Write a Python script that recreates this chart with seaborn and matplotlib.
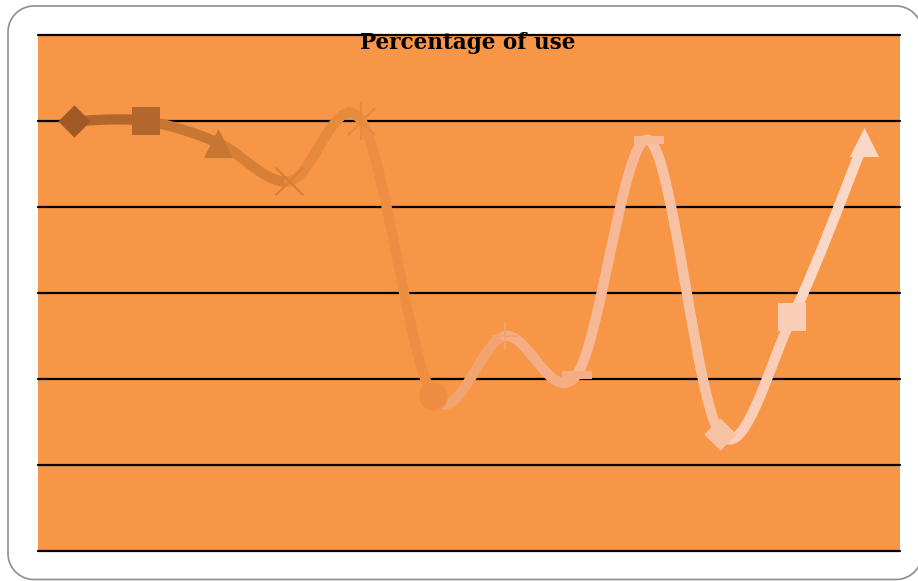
import numpy as np
import pandas as pd
import matplotlib
matplotlib.use("Agg")
import matplotlib.pyplot as plt
from matplotlib.lines import Line2D
import seaborn as sns

# Twelve observations, one colour and one marker per point
positions = list(range(12))
values = [50, 50, 47.5, 43, 50, 18, 25, 20.5, 47.8, 13.6, 27.2, 47.6]
point_colors = ["#a15a26", "#b4672d", "#c77634", "#d77f37", "#e68a3d", "#ee8e42",
                "#f3a370", "#f5ae84", "#f6b896", "#f7c2a4", "#f9cdb6", "#fad8c8"]
point_markers = ["D", "s", "^", "x", "asterisk", "o", "+", "dash", "dash", "D", "s", "^"]
y_ticks = [0, 10, 20, 30, 40, 50, 60]
title = "Percentage of use"

df = pd.DataFrame({"pos": positions, "value": values})

sns.set_theme(style="white")
W, H = 918, 581
fig = plt.figure(figsize=(W / 100, H / 100), dpi=100)
fig.patch.set_facecolor("white")


def rounded_rect(x0, y0, x1, y1, r, k=24):
    """Outline of a rounded rectangle as a polyline in pixel coordinates."""
    pts = []
    corners = [(x1 - r, y1 - r, 0), (x0 + r, y1 - r, 90),
               (x0 + r, y0 + r, 180), (x1 - r, y0 + r, 270)]
    for cx, cy, a0 in corners:
        a = np.radians(np.linspace(a0, a0 + 90, k))
        pts.extend(zip(cx + r * np.cos(a), cy + r * np.sin(a)))
    pts.append(pts[0])
    xs, ys = zip(*pts)
    return xs, ys


# rounded outer frame (its right side runs just past the canvas edge)
fx, fy = rounded_rect(8, 1.5, 922, 575, 26)
fig.add_artist(Line2D(fx, fy, transform=None, color="#8e8e8e", lw=1.2))

left, right, top, bottom = 38 / W, 900 / W, 35 / H, 551 / H
ax = fig.add_axes([left, 1 - bottom, right - left, bottom - top])
ax.set_facecolor("#f79646")
ax.set_xlim(-0.5, 11.5)
ax.set_ylim(0, 60)
for s in ax.spines.values():
    s.set_visible(False)
ax.set_xticks([])
ax.set_yticks([])

for t in y_ticks:
    ax.axhline(t, color="black", lw=1.6, zorder=1, clip_on=False)

# smoothed line: cubic Bezier segments with Catmull-Rom style control points
x = np.array(df["pos"], dtype=float)
y = np.array(df["value"], dtype=float)
n = len(x)
tt = np.linspace(0, 1, 60)
for i in range(n - 1):
    p0 = np.array([x[max(i - 1, 0)], y[max(i - 1, 0)]])
    p1 = np.array([x[i], y[i]])
    p2 = np.array([x[i + 1], y[i + 1]])
    p3 = np.array([x[min(i + 2, n - 1)], y[min(i + 2, n - 1)]])
    c1 = p1 + (p2 - p0) / 6
    c2 = p2 - (p3 - p1) / 6
    b = ((1 - tt) ** 3)[:, None] * p1 + (3 * (1 - tt) ** 2 * tt)[:, None] * c1 \
        + (3 * (1 - tt) * tt ** 2)[:, None] * c2 + (tt ** 3)[:, None] * p2
    seg = pd.DataFrame({"px": b[:, 0], "py": b[:, 1]})
    sns.lineplot(data=seg, x="px", y="py", ax=ax, color=point_colors[i + 1], lw=7.4,
                 sort=False, estimator=None, solid_capstyle="round", zorder=2 + i * 0.01)

dash_verts = [(-1, -0.3), (1, -0.3), (1, 0.3), (-1, 0.3), (-1, -0.3)]
for i in range(n):
    pt = df.iloc[[i]]
    m = point_markers[i]
    c = point_colors[i]
    kw = dict(data=pt, x="pos", y="value", ax=ax, color=c, zorder=5, legend=False)
    if m == "D":
        sns.scatterplot(marker="D", s=16.5 ** 2, linewidth=0, **kw)
    elif m == "s":
        sns.scatterplot(marker="s", s=20.5 ** 2, linewidth=0, **kw)
    elif m == "^":
        sns.scatterplot(marker="^", s=21 ** 2, linewidth=0, **kw)
    elif m == "o":
        sns.scatterplot(marker="o", s=20.5 ** 2, linewidth=0, **kw)
    elif m == "x":
        sns.scatterplot(marker="x", s=20 ** 2, linewidth=1.5, **kw)
    elif m == "asterisk":
        sns.scatterplot(marker="x", s=20 ** 2, linewidth=1.5, **kw)
        sns.scatterplot(marker="|", s=28 ** 2, linewidth=1.5, **kw)
    elif m == "+":
        sns.scatterplot(marker="+", s=19 ** 2, linewidth=1.5, **kw)
    elif m == "dash":
        sns.scatterplot(marker=dash_verts, s=21 ** 2, linewidth=0, **kw)

ax.set_xlabel("")
ax.set_ylabel("")

fig.text(468 / W, 1 - 43 / H, title, ha="center", va="center", fontsize=15.5,
         fontweight="bold", family="DejaVu Serif", color="black")

fig.savefig("out.png", dpi=100)
